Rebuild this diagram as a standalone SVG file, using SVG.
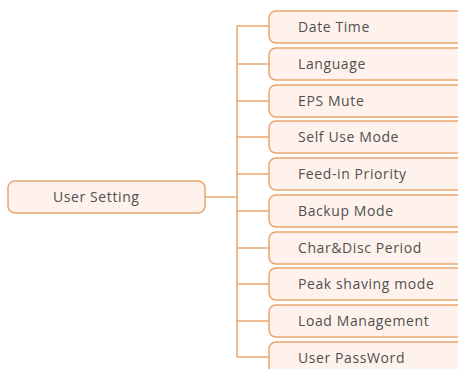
<svg xmlns="http://www.w3.org/2000/svg" width="458" height="369" viewBox="0 0 458 369">
<style>
.box{fill:#fff2ec;stroke:#e9a66e;stroke-width:1.5}
.lbl{font-family:"Open Sans","Liberation Sans",sans-serif;font-size:14px;letter-spacing:0.6px;fill:#505050}
.ln{stroke:#eba870;stroke-width:1.5;fill:none}
</style>
<rect width="458" height="369" fill="#ffffff"/>
<g id="connectors">
<path class="ln" d="M205 197H237M237 26V357"/>
<path class="ln" d="M237 26H269M237 64H269M237 101H269M237 137H269M237 174H269M237 211H269M237 248H269M237 284H269M237 321H269M237 357H269"/>
</g>
<g id="user-setting"><rect class="box" x="8" y="181" width="197" height="32" rx="7"/><text class="lbl" x="53" y="202">User Setting</text></g>
<g id="date-time"><rect class="box" x="269" y="11" width="200" height="32" rx="7"/><text class="lbl" x="298" y="32">Date Time</text></g>
<g id="language"><rect class="box" x="269" y="48" width="200" height="32" rx="7"/><text class="lbl" x="298" y="69">Language</text></g>
<g id="eps-mute"><rect class="box" x="269" y="85" width="200" height="32" rx="7"/><text class="lbl" x="298" y="106">EPS Mute</text></g>
<g id="self-use-mode"><rect class="box" x="269" y="121" width="200" height="32" rx="7"/><text class="lbl" x="298" y="142">Self Use Mode</text></g>
<g id="feed-in-priority"><rect class="box" x="269" y="158" width="200" height="32" rx="7"/><text class="lbl" x="298" y="179">Feed-in Priority</text></g>
<g id="backup-mode"><rect class="box" x="269" y="195" width="200" height="32" rx="7"/><text class="lbl" x="298" y="216">Backup Mode</text></g>
<g id="char-disc-period"><rect class="box" x="269" y="232" width="200" height="32" rx="7"/><text class="lbl" x="298" y="253">Char&amp;Disc Period</text></g>
<g id="peak-shaving-mode"><rect class="box" x="269" y="268" width="200" height="32" rx="7"/><text class="lbl" x="298" y="289">Peak shaving mode</text></g>
<g id="load-management"><rect class="box" x="269" y="305" width="200" height="32" rx="7"/><text class="lbl" x="298" y="326">Load Management</text></g>
<g id="user-password"><rect class="box" x="269" y="342" width="200" height="32" rx="7"/><text class="lbl" x="298" y="363">User PassWord</text></g>
</svg>
